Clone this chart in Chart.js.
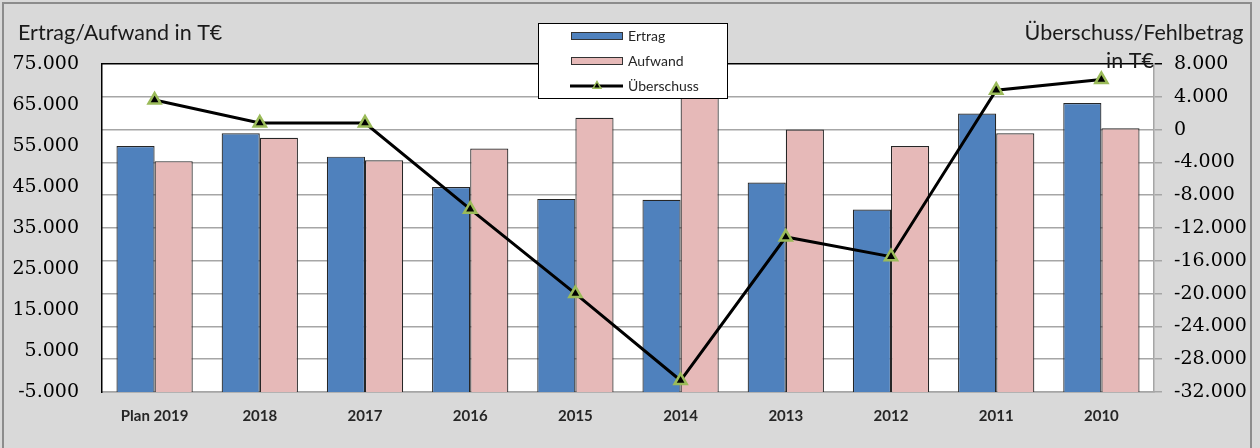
<!DOCTYPE html>
<html>
<head>
<meta charset="utf-8">
<script src="https://cdn.jsdelivr.net/npm/chart.js@4.4.1/dist/chart.umd.min.js"></script>
<style>
  html, body { margin: 0; padding: 0; background: #D9D9D9; }
  #wrap { width: 1260px; height: 448px; position: relative; }
</style>
</head>
<body>
<div id="wrap"><canvas id="c" width="1260" height="448"></canvas></div>
<script>
// ---- data ----
const categories = ['Plan 2019', '2018', '2017', '2016', '2015', '2014', '2013', '2012', '2011', '2010'];
const ertrag = [55000, 58100, 52400, 45000, 42100, 41900, 46100, 39500, 62900, 65500];
const aufwand = [51300, 57000, 51500, 54400, 61900, 72500, 59000, 55000, 58100, 59300];
const ueberschuss = [3600, 800, 800, -9700, -20000, -30600, -13100, -15500, 4800, 6100];
const seriesNames = ['Ertrag', 'Aufwand', 'Überschuss'];
const leftTitle = 'Ertrag/Aufwand in T€';
const rightTitle = ['Überschuss/Fehlbetrag', 'in T€'];
const leftMin = -5000, leftMax = 75000, leftStep = 10000;
const rightMin = -32000, rightMax = 8000, rightStep = 4000;

function fmt(v) {
  const s = Math.abs(Math.round(v)).toString().replace(/\B(?=(\d{3})+(?!\d))/g, '.');
  return (v < 0 ? '-' : '') + s;
}

const deco = {
  id: 'deco',
  beforeDraw(chart) {
    const { ctx, chartArea: a } = chart;
    ctx.save();
    ctx.fillStyle = '#D9D9D9';
    ctx.fillRect(0, 0, chart.width, chart.height);
    ctx.strokeStyle = '#8C8C8C';
    ctx.lineWidth = 2;
    ctx.strokeRect(3, 3, 1248, 470);
    ctx.fillStyle = '#FFFFFF';
    ctx.fillRect(a.left, a.top, a.right - a.left, a.bottom - a.top);
    ctx.restore();
  },
  afterDraw(chart) {
    const { ctx } = chart;
    ctx.save();
    // axis titles
    ctx.fillStyle = '#1a1a1a';
    ctx.font = '21.5px Lato';
    ctx.textBaseline = 'middle';
    ctx.textAlign = 'left';
    ctx.fillText(leftTitle, 18, 33);
    ctx.textAlign = 'center';
    ctx.fillText(rightTitle[0], 1134, 33);
    ctx.fillText(rightTitle[1], 1130, 61);

    // legend
    ctx.fillStyle = '#FFFFFF';
    ctx.fillRect(538.5, 23.5, 189, 75);
    ctx.strokeStyle = '#000000';
    ctx.lineWidth = 1;
    ctx.strokeRect(538.5, 23.5, 189, 75);
    const ds = chart.data.datasets;
    const ys = [36, 61, 86];
    ctx.font = '14px Lato';
    ctx.textAlign = 'left';
    ds.forEach((d, i) => {
      const y = ys[i];
      if (d.type === 'line') {
        ctx.strokeStyle = d.borderColor;
        ctx.lineWidth = 3;
        ctx.beginPath();
        ctx.moveTo(570, y);
        ctx.lineTo(623, y);
        ctx.stroke();
        const r = 4.5;
        ctx.beginPath();
        ctx.moveTo(597, y - r);
        ctx.lineTo(597 + r * 0.866, y + r * 0.5);
        ctx.lineTo(597 - r * 0.866, y + r * 0.5);
        ctx.closePath();
        ctx.fillStyle = d.pointBackgroundColor;
        ctx.fill();
        ctx.strokeStyle = d.pointBorderColor;
        ctx.lineWidth = 1.5;
        ctx.stroke();
      } else {
        ctx.fillStyle = d.backgroundColor;
        ctx.fillRect(571, y - 3.5, 51, 7);
        ctx.strokeStyle = '#333333';
        ctx.lineWidth = 1;
        ctx.strokeRect(571.5, y - 3.5, 51, 7);
      }
      ctx.fillStyle = '#262626';
      ctx.fillText(d.label, 628, y);
    });
    ctx.restore();
  }
};

new Chart(document.getElementById('c'), {
  data: {
    labels: categories,
    datasets: [
      {
        type: 'bar', label: seriesNames[0], data: ertrag, yAxisID: 'y', base: leftMin,
        backgroundColor: '#4F81BD', borderColor: '#262626', borderWidth: 1.2,
        categoryPercentage: 0.725, barPercentage: 1.0, order: 2
      },
      {
        type: 'bar', label: seriesNames[1], data: aufwand, yAxisID: 'y', base: leftMin,
        backgroundColor: '#E6B9B8', borderColor: '#262626', borderWidth: 1.2,
        categoryPercentage: 0.725, barPercentage: 1.0, order: 2
      },
      {
        type: 'line', label: seriesNames[2], data: ueberschuss, yAxisID: 'y1',
        borderColor: '#000000', borderWidth: 3, tension: 0,
        pointStyle: 'triangle', pointRadius: 7, pointHoverRadius: 7,
        pointBackgroundColor: '#000000', pointBorderColor: '#9BBB59', pointBorderWidth: 2.5,
        order: 0
      }
    ]
  },
  options: {
    responsive: false,
    animation: false,
    devicePixelRatio: 1,
    layout: { padding: { top: 64, left: 0, right: 0, bottom: 0 } },
    plugins: { legend: { display: false }, tooltip: { enabled: false } },
    scales: {
      x: {
        offset: true,
        grid: { display: false, drawTicks: false },
        border: { display: true, color: '#A6A6A6', width: 1.5 },
        ticks: { color: '#262626', font: { family: 'Lato', size: 15, weight: 'bold' }, padding: 15, maxRotation: 0 },
        afterFit(s) { s.height = 56; }
      },
      y: {
        position: 'left',
        min: leftMin, max: leftMax,
        ticks: { stepSize: leftStep, color: '#000000', font: { family: 'DejaVu Serif', size: 19 }, padding: 23, callback: v => fmt(v) },
        grid: { display: false, drawTicks: false },
        border: { display: true, color: '#000000', width: 1.5 },
        afterFit(s) { s.width = 102; }
      },
      y1: {
        position: 'right',
        min: rightMin, max: rightMax,
        ticks: { stepSize: rightStep, color: '#000000', font: { family: 'DejaVu Serif', size: 19 }, padding: 12, callback: v => fmt(v) },
        grid: {
          display: true, drawTicks: true, tickLength: 8, lineWidth: 1.5,
          color: c => (c.tick && c.tick.value === rightMax) ? '#000000' : '#A6A6A6'
        },
        border: { display: true, color: '#A6A6A6', width: 1.5 },
        afterFit(s) { s.width = 106; }
      }
    }
  },
  plugins: [deco]
});
</script>
</body>
</html>
